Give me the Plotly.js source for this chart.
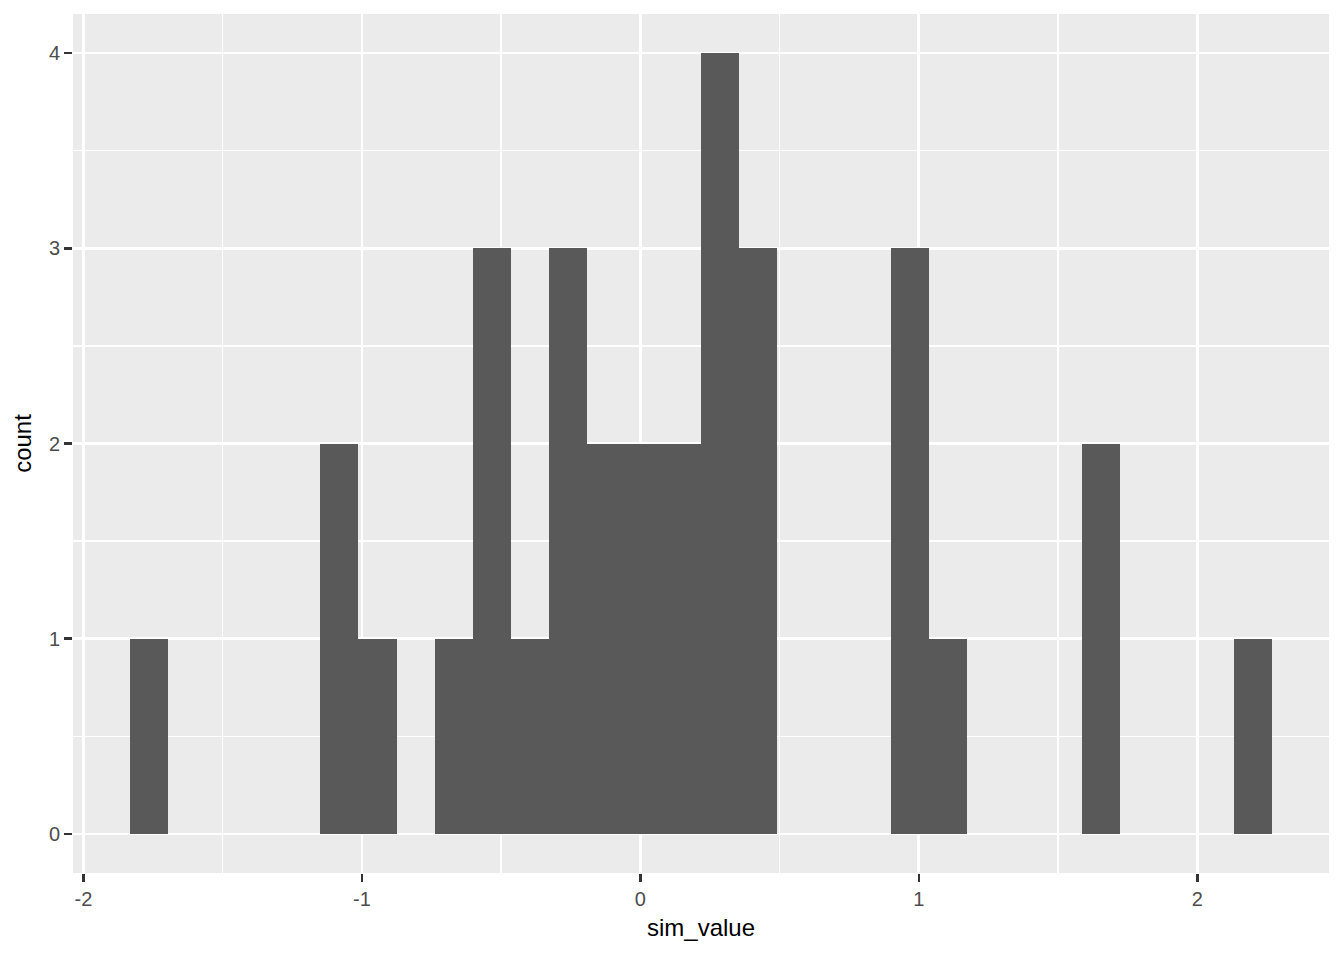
<!DOCTYPE html>
<html>
<head>
<meta charset="utf-8">
<script src="https://cdn.plot.ly/plotly-3.0.1.min.js"></script>
<style>html,body{margin:0;padding:0;background:#fff;}#chart{width:1344px;height:960px;}</style>
</head>
<body>
<div id="chart"></div>
<script>
// Histogram: 30 bins, counts
const binStart = -1.8323;
const binWidth = 0.13667;
const counts = [1,0,0,0,0,2,1,0,1,3,1,3,2,2,2,4,3,0,0,0,3,1,0,0,0,2,0,0,0,1];
const xTickVals = [-2,-1,0,1,2];
const xTickText = ['-2','-1','0','1','2'];
const yTickVals = [0,1,2,3,4];
const yTickText = ['0','1','2','3','4'];
const xTitle = 'sim_value';
const yTitle = 'count';

const centers = counts.map((c, i) => binStart + (i + 0.5) * binWidth);

const trace = {
  type: 'bar',
  x: centers,
  y: counts,
  width: counts.map(() => binWidth),
  marker: {color: '#595959', line: {width: 0}},
  hoverinfo: 'x+y'
};

const tickFont = {family: '"Liberation Sans Narrow", "Liberation Sans", Arial, sans-serif', size: 20, color: '#4D4D4D'};
const titleFont = {family: '"Liberation Sans", Arial, sans-serif', size: 24, color: '#000000'};

const layout = {
  width: 1344,
  height: 960,
  margin: {l: 73, r: 15, t: 14, b: 87},
  paper_bgcolor: '#FFFFFF',
  plot_bgcolor: '#EBEBEB',
  showlegend: false,
  bargap: 0,
  xaxis: {
    range: [-2.0373, 2.4729],
    tickvals: xTickVals,
    ticktext: xTickText,
    ticks: 'outside',
    ticklen: 8,
    tickwidth: 2.5,
    tickcolor: '#333333',
    tickfont: tickFont,
    showgrid: true,
    gridcolor: '#FFFFFF',
    gridwidth: 2.7,
    zeroline: false,
    showline: false,
    minor: {dtick: 0.5, tick0: 0, showgrid: true, gridcolor: '#FFFFFF', gridwidth: 1.4, ticks: ''},
    title: {text: xTitle, font: titleFont, standoff: 10},
    fixedrange: true
  },
  yaxis: {
    range: [-0.2, 4.2],
    tickvals: yTickVals,
    ticktext: yTickText,
    ticks: 'outside',
    ticklen: 8,
    tickwidth: 2.5,
    tickcolor: '#333333',
    tickfont: tickFont,
    showgrid: true,
    gridcolor: '#FFFFFF',
    gridwidth: 2.7,
    zeroline: false,
    showline: false,
    minor: {dtick: 0.5, tick0: 0, showgrid: true, gridcolor: '#FFFFFF', gridwidth: 1.4, ticks: ''},
    title: {text: yTitle, font: titleFont, standoff: 10},
    fixedrange: true
  }
};

Plotly.newPlot('chart', [trace], layout, {displayModeBar: false, staticPlot: true});
</script>
</body>
</html>
